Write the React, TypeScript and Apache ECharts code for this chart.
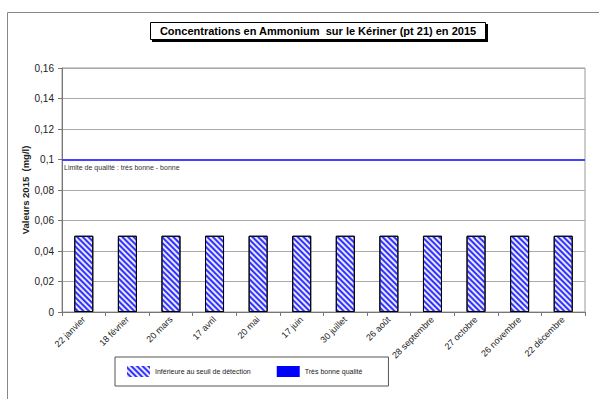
import React, { useEffect, useRef } from "react";
import * as echarts from "echarts";

const categories = [
  "22 janvier", "18 février", "20 mars", "17 avril", "20 mai", "17 juin",
  "30 juillet", "26 août", "28 septembre", "27 octobre", "26 novembre", "22 décembre",
];
const belowDetection = [0.05, 0.05, 0.05, 0.05, 0.05, 0.05, 0.05, 0.05, 0.05, 0.05, 0.05, 0.05];
const qualityLimit = 0.1;
const yTicks = { min: 0, max: 0.16, interval: 0.02 };
const titleText = "Concentrations en Ammonium  sur le Kériner (pt 21) en 2015";
const seriesNames = ["Inférieure au seuil de détection", "Très bonne qualité"];
const limitLabel = "Limite de qualité : très bonne - bonne";

const FONT = "'Liberation Sans', Arial, sans-serif";

export default function App() {
  const ref = useRef<HTMLDivElement>(null);
  useEffect(() => {
    if (!ref.current) return;
    const chart = echarts.init(ref.current, undefined, { renderer: "svg" });
    const hatch = {
      symbol: "rect",
      symbolSize: 1,
      color: "#3333ff",
      dashArrayX: [1, 0],
      dashArrayY: [2, 2],
      rotation: Math.PI / 4,
    };
    chart.setOption({
      animation: false,
      backgroundColor: "#fff",
      textStyle: { fontFamily: FONT },
      grid: { left: 62, right: 14, top: 68, bottom: 87, show: true, borderColor: "#999", borderWidth: 1 },
      graphic: [
        { type: "line", shape: { x1: 7.5, y1: 12.5, x2: 599, y2: 12.5 }, style: { stroke: "#888", lineWidth: 1 } },
        { type: "line", shape: { x1: 7.5, y1: 12.5, x2: 7.5, y2: 399 }, style: { stroke: "#888", lineWidth: 1 } },
        { type: "rect", shape: { x: 152, y: 24, width: 336, height: 18 }, style: { fill: "#000" } },
        { type: "rect", shape: { x: 150.5, y: 22.5, width: 335, height: 17 }, style: { fill: "#fff", stroke: "#000", lineWidth: 1 } },
        {
          type: "text", x: 318, y: 31,
          style: { text: titleText, font: `bold 11px ${FONT}`, fill: "#000", align: "center", verticalAlign: "middle" },
        },
      ],
      legend: {
        left: 115, top: 357,
        padding: [9, 26, 9, 12],
        borderColor: "#555", borderWidth: 1,
        itemWidth: 23, itemHeight: 11, itemGap: 26,
        icon: "rect",
        textStyle: { fontSize: 7, color: "#222", fontFamily: FONT },
        data: [
          { name: seriesNames[0], itemStyle: { borderWidth: 0, color: "#e8e8ff", decal: hatch } },
          { name: seriesNames[1], itemStyle: { borderWidth: 0, color: "#0000ff" } },
        ],
      },
      xAxis: {
        type: "category",
        data: categories,
        boundaryGap: true,
        axisLine: { lineStyle: { color: "#777" } },
        axisTick: { show: true, length: 4, inside: false, lineStyle: { color: "#777" } },
        axisLabel: { rotate: 45, fontSize: 9, color: "#222", margin: 6, fontFamily: FONT, interval: 0 },
        splitLine: { show: false },
      },
      yAxis: {
        type: "value",
        min: yTicks.min, max: yTicks.max, interval: yTicks.interval,
        name: "Valeurs 2015  (mg/l)",
        nameLocation: "middle",
        nameGap: 32,
        nameMoveOverlap: false,
        nameTextStyle: { fontSize: 9.5, fontWeight: "bold", color: "#222", fontFamily: FONT },
        axisLine: { show: true, lineStyle: { color: "#777" } },
        axisTick: { show: true, length: 4, lineStyle: { color: "#777" } },
        axisLabel: {
          fontSize: 10, color: "#222", margin: 8, fontFamily: FONT,
          formatter: (v: number) => String(Number(v.toFixed(2))).replace(".", ","),
        },
        splitLine: { show: true, lineStyle: { color: "#aaa", width: 1 } },
      },
      series: [
        {
          name: seriesNames[0],
          type: "bar",
          data: belowDetection,
          barWidth: 19,
          barGap: "-100%",
          itemStyle: {
            color: "#e8e8ff",
            borderColor: "#000",
            borderWidth: 1,
            decal: hatch,
          },
          markLine: {
            silent: true,
            symbol: "none",
            data: [{ yAxis: qualityLimit }],
            lineStyle: { color: "#4444ff", width: 2, type: "solid" },
            label: {
              show: true, position: "insideStartBottom", formatter: limitLabel,
              fontSize: 7, color: "#333", fontFamily: FONT, distance: [2, 4],
            },
          },
        },
        {
          name: seriesNames[1],
          type: "bar",
          data: categories.map(() => "-"),
          barWidth: 19,
          itemStyle: { color: "#0000ff" },
        },
      ],
    });
    return () => chart.dispose();
  }, []);
  return <div ref={ref} style={{ width: 599, height: 399, position: "absolute", left: 0, top: 0 }} />;
}
